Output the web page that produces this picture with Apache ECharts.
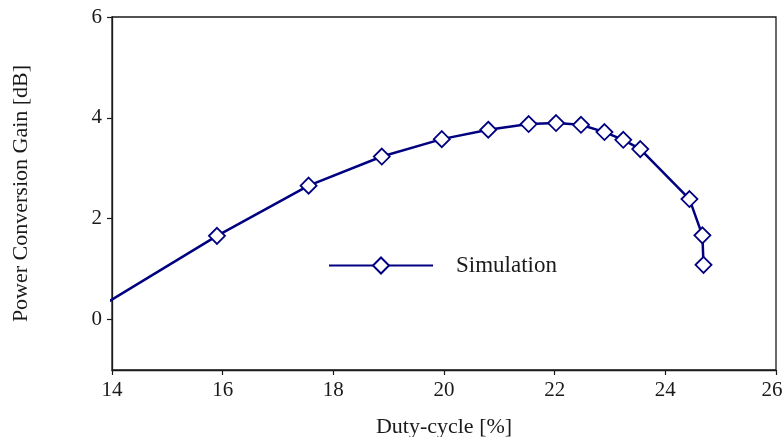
<!DOCTYPE html>
<html>
<head>
<meta charset="utf-8">
<script src="https://cdn.jsdelivr.net/npm/echarts@6/dist/echarts.min.js"></script>
<style>
  html, body { margin: 0; padding: 0; background: #fff; }
  #chart { width: 784px; height: 437px; }
</style>
</head>
<body>
<div id="chart"></div>
<script>
// Duty-cycle sweep [%] and simulated power conversion gain [dB]
const dutyCycle = [13.4, 15.897, 17.553, 18.876, 19.96, 20.80, 21.53, 22.025, 22.476, 22.90, 23.24, 23.547, 24.436, 24.67, 24.69];
const gainDb    = [0.0, 1.66, 2.656, 3.233, 3.578, 3.764, 3.877, 3.897, 3.863, 3.718, 3.565, 3.38, 2.39, 1.67, 1.085];
const xTicks = [14, 16, 18, 20, 22, 24, 26];
const yTicks = [0, 2, 4, 6];
const seriesName = 'Simulation';

const serif = 'Liberation Serif';
const navy = '#000080';
const ink = '#1a1a1a';
const xMax = xTicks[xTicks.length - 1];

const chart = echarts.init(document.getElementById('chart'), null, { renderer: 'canvas' });
chart.setOption({
  animation: false,
  backgroundColor: '#fff',
  grid: {
    left: 112, right: 8, top: 17, bottom: 67,
    outerBoundsMode: 'none', containLabel: false,
    show: true, borderColor: ink, borderWidth: 1.3
  },
  legend: {
    data: [seriesName],
    left: 328, top: 254, padding: 0,
    itemWidth: 104, itemHeight: 20,
    textStyle: { fontFamily: serif, fontSize: 23, color: ink, padding: [0, 0, 0, 18] }
  },
  xAxis: {
    type: 'value', min: 14, max: xMax, interval: 2,
    name: 'Duty-cycle [%]', nameLocation: 'middle', nameGap: 46,
    nameTextStyle: { fontFamily: serif, fontSize: 22, color: ink },
    axisLine: { show: true, onZero: false, lineStyle: { color: ink, width: 1.3 } },
    axisTick: { show: true, inside: false, length: 5, lineStyle: { color: ink, width: 1.2 } },
    axisLabel: {
      fontFamily: serif, fontSize: 21, color: ink, margin: 10,
      // keep the last label inside the canvas edge
      formatter: v => v === xMax ? '{edge|' + v + '}' : String(v),
      rich: { edge: { fontFamily: serif, fontSize: 21, color: ink, padding: [0, 8, 0, 0] } }
    },
    splitLine: { show: false }
  },
  yAxis: {
    type: 'value', min: -1, max: 6,
    name: 'Power Conversion Gain [dB]', nameLocation: 'middle', nameGap: 80,
    nameTextStyle: { fontFamily: serif, fontSize: 22, color: ink },
    axisLine: { show: true, onZero: false, lineStyle: { color: ink, width: 1.3 } },
    axisTick: { show: true, inside: false, length: 5, lineStyle: { color: ink, width: 1.2 },
      customValues: yTicks },
    axisLabel: { fontFamily: serif, fontSize: 21, color: ink, margin: 10, customValues: yTicks },
    splitLine: { show: false }
  },
  series: [{
    name: seriesName,
    type: 'line',
    data: dutyCycle.map((x, i) => [x, gainDb[i]]),
    clip: true,
    symbol: 'diamond',
    symbolSize: 16,
    showAllSymbol: true,
    lineStyle: { color: navy, width: 2.5 },
    itemStyle: { color: '#fff', borderColor: navy, borderWidth: 1.8 },
    z: 3
  }]
});
</script>
</body>
</html>
